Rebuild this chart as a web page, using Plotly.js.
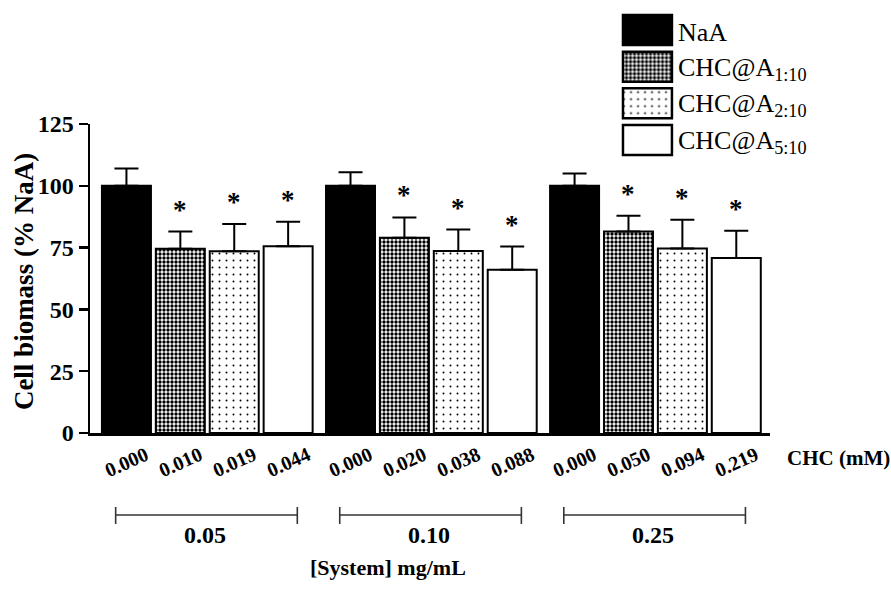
<!DOCTYPE html>
<html>
<head>
<meta charset="utf-8">
<script src="https://cdn.plot.ly/plotly-3.0.1.min.js"></script>
<style>html,body{margin:0;padding:0;background:#fff;}#chart{width:891px;height:595px;}</style>
</head>
<body>
<div id="chart"></div>
<script>
// ---- data ----
var seriesNames = ["NaA", "CHC@A<sub>1:10</sub>", "CHC@A<sub>2:10</sub>", "CHC@A<sub>5:10</sub>"];
var groupLabels = ["0.05", "0.10", "0.25"];
var chcLabels = ["0.000", "0.010", "0.019", "0.044",
                 "0.000", "0.020", "0.038", "0.088",
                 "0.000", "0.050", "0.094", "0.219"];
var naaValues = [100, 100, 100];
var naaErrors = [7, 5.5, 5];
var a110Values = [74.5, 79, 81.5];
var a110Errors = [7, 8.2, 6.4];
var a210Values = [73.5, 73.6, 74.6];
var a210Errors = [11, 8.7, 11.7];
var a510Values = [75.5, 66, 70.8];
var a510Errors = [10, 9.4, 11];
var significant = [[false, false, false], [true, true, true], [true, true, true], [true, true, true]];

// ---- layout helpers ----
var values = [naaValues, a110Values, a210Values, a510Values];
var errors = [naaErrors, a110Errors, a210Errors, a510Errors];
var GROUP_STEP = 4.157;
function pos(g, i) { return g * GROUP_STEP + i; }
var SERIF = "Liberation Serif, Times New Roman, serif";
var fills = [
  {color: "#000000", pattern: {shape: ""}},
  {color: "#ffffff", pattern: {shape: ".", fgcolor: "#000000", bgcolor: "#ffffff", size: 4, solidity: 0.55}},
  {color: "#ffffff", pattern: {shape: ".", fgcolor: "#000000", bgcolor: "#ffffff", size: 7, solidity: 0.06}},
  {color: "#ffffff", pattern: {shape: ""}}
];

var traces = [];
var annotations = [];
values.forEach(function (vals, s) {
  var xs = vals.map(function (_, g) { return pos(g, s); });
  traces.push({
    type: "bar", x: xs, y: vals, width: 0.909,
    marker: {color: fills[s].color, pattern: fills[s].pattern, line: {color: "#000", width: 2}},
    error_y: {type: "data", symmetric: false, array: errors[s], arrayminus: vals.map(function(){return 0;}),
              color: "#000", thickness: 2, width: 12},
    showlegend: false, hoverinfo: "skip", xaxis: "x", yaxis: "y"
  });
  vals.forEach(function (v, g) {
    if (significant[s][g]) {
      annotations.push({xref: "x", yref: "y", x: pos(g, s), y: v + errors[s][g],
        text: "<b>*</b>", showarrow: false, xanchor: "center", yanchor: "bottom", yshift: 5,
        font: {family: SERIF, size: 27, color: "#000"}});
    }
  });
});

// CHC tick labels
chcLabels.forEach(function (t, k) {
  var g = Math.floor(k / 4), i = k % 4;
  annotations.push({xref: "x", yref: "paper", x: pos(g, i), y: -0.0686, text: "<b>" + t + "</b>",
    textangle: -24, showarrow: false, xanchor: "center", yanchor: "middle",
    font: {family: SERIF, size: 20, color: "#000"}});
});

// group brackets + labels
var shapes = [];
groupLabels.forEach(function (lab, g) {
  var x0 = pos(g, 0) - 0.2, x1 = pos(g, 3) + 0.17;
  var lc = {color: "#333", width: 1.6};
  shapes.push({type: "line", xref: "x", yref: "paper", x0: x0, x1: x1, y0: -0.194, y1: -0.194, line: lc});
  shapes.push({type: "line", xref: "x", yref: "paper", x0: x0, x1: x0, y0: -0.175, y1: -0.215, line: lc});
  shapes.push({type: "line", xref: "x", yref: "paper", x0: x1, x1: x1, y0: -0.175, y1: -0.215, line: lc});
  annotations.push({xref: "x", yref: "paper", x: (pos(g, 0) + pos(g, 3)) / 2 - 0.05, y: -0.24,
    text: "<b>" + lab + "</b>", showarrow: false, xanchor: "center", yanchor: "middle",
    font: {family: SERIF, size: 24, color: "#000"}});
});

annotations.push({xref: "paper", yref: "paper", x: 0.9457, y: -0.059, text: "<b>CHC (mM)</b>",
  showarrow: false, xanchor: "center", yanchor: "middle", font: {family: SERIF, size: 21, color: "#000"}});
annotations.push({xref: "paper", yref: "paper", x: 0.3767, y: -0.319, text: "<b>[System] mg/mL</b>",
  showarrow: false, xanchor: "center", yanchor: "middle", font: {family: SERIF, size: 22, color: "#000"}});
annotations.push({xref: "paper", yref: "paper", x: -0.084, y: 0.358, text: "<b>Cell biomass (% NaA)</b>",
  textangle: -90, showarrow: false, xanchor: "center", yanchor: "middle", font: {family: SERIF, size: 27, color: "#000"}});

// custom legend (large swatches), one bar trace per series
seriesNames.forEach(function (n, i) {
  traces.push({
    type: "bar", orientation: "h", x: [1], y: [i], width: 0.82,
    xaxis: "x2", yaxis: "y2", showlegend: false, hoverinfo: "skip",
    marker: {color: fills[i].color, pattern: fills[i].pattern, line: {color: "#000", width: 2.5}}
  });
  annotations.push({xref: "paper", yref: "y2", x: 0.7408, y: i, text: n, showarrow: false,
    xanchor: "left", yanchor: "middle", yshift: -2, font: {family: SERIF, size: 26, color: "#000"}});
});

var layout = {
  width: 891, height: 595,
  margin: {l: 90, r: 10, t: 10, b: 162},
  paper_bgcolor: "#fff", plot_bgcolor: "rgba(0,0,0,0)",
  showlegend: false, barmode: "overlay",
  xaxis: {domain: [0, 0.8597], range: [-0.676, 11.94], showline: true, linecolor: "#000", linewidth: 2.5,
          showgrid: false, zeroline: false, showticklabels: false, ticks: "", fixedrange: true},
  yaxis: {domain: [0, 0.7305], range: [0, 125], tickvals: [0, 25, 50, 75, 100, 125],
          showline: true, linecolor: "#000", linewidth: 2.5, ticks: "outside", ticklen: 9, tickwidth: 2.5,
          tickcolor: "#000", showgrid: false, zeroline: false,
          tickfont: {family: SERIF, size: 24, color: "#000", weight: "bold"}, fixedrange: true},
  xaxis2: {domain: [0.6707, 0.7388], range: [-0.05, 1.05], visible: false, anchor: "y2", fixedrange: true},
  yaxis2: {domain: [0.6494, 0.996], range: [3.5, -0.5], visible: false, anchor: "x2", fixedrange: true},
  shapes: shapes,
  annotations: annotations
};

Plotly.newPlot("chart", traces, layout, {displayModeBar: false, staticPlot: true});
</script>
</body>
</html>
